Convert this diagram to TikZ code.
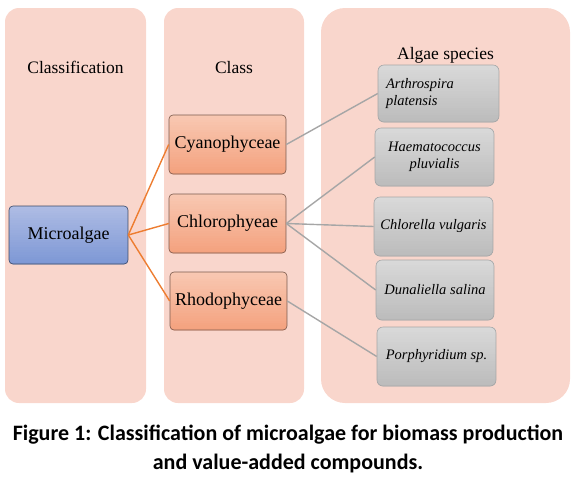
\documentclass[tikz,border=0pt]{standalone}
\usepackage{fontspec}
\setmainfont{Liberation Serif}
\newfontfamily\capfont{Carlito}
\usetikzlibrary{calc}
\definecolor{panelpink}{HTML}{F9D6CC}
\definecolor{orangeline}{HTML}{ED7D31}
\definecolor{grayline}{HTML}{A6A6A6}
\definecolor{bluetop}{HTML}{AEBCE4}
\definecolor{bluebot}{HTML}{7E98D5}
\definecolor{orgtop}{HTML}{F8C8B2}
\definecolor{orgbot}{HTML}{F4A27F}
\definecolor{graytop}{HTML}{D9D9D9}
\definecolor{graybot}{HTML}{BCBCBC}
\definecolor{blueedge}{HTML}{3C4A66}
\definecolor{orgedge}{HTML}{7A5A4E}
\pgfdeclarelayer{panels}
\pgfdeclarelayer{grad}
\pgfsetlayers{panels,grad,main}
\tikzset{
  panel/.style={fill=panelpink, draw=none, rounded corners=14pt, inner sep=0pt},
  header/.style={font=\fontsize{17.5}{20}\selectfont, anchor=base, inner sep=0pt},
  bluebox/.style={draw=blueedge, line width=0.6pt, rounded corners=4pt, minimum width=119pt, minimum height=58pt, font=\fontsize{18}{20}\selectfont, inner sep=0pt},
  classbox/.style={draw=orgedge, line width=0.6pt, rounded corners=4pt, minimum width=117pt, minimum height=58pt, font=\fontsize{18}{20}\selectfont, inner sep=0pt},
  specbox/.style={draw=grayline, line width=0.6pt, rounded corners=6pt, minimum width=119pt, minimum height=58pt, font=\fontsize{14.5}{16.5}\selectfont\itshape, inner sep=0pt, align=center},
  oline/.style={draw=orangeline, line width=1.4pt},
  gline/.style={draw=grayline, line width=1.4pt},
  captext/.style={font=\capfont\bfseries\fontsize{22}{29}\selectfont, anchor=base, inner sep=0pt}
}
\newcommand{\gradfill}[4]{%
  \begin{pgfonlayer}{grad}
  \begin{scope}
  \clip[rounded corners=#4] (#1.north west) rectangle (#1.south east);
  \foreach \i in {0,...,23}{%
    \pgfmathsetmacro\pct{100-\i*100/23}%
    \fill[#2!\pct!#3] ($(#1.north west)!\i/24!(#1.south west)$) rectangle ($(#1.north east)!{(\i+1.2)/24}!(#1.south east)$);
  }
  \end{scope}
  \end{pgfonlayer}}
\begin{document}
\begin{tikzpicture}[x=1pt,y=-1pt]
\useasboundingbox (0,0) rectangle (576,483);
% panels
\begin{pgfonlayer}{panels}
\node[panel, minimum width=141pt, minimum height=395pt] (p1) at (75.5,205.5) {};
\node[panel, minimum width=140pt, minimum height=395pt] (p2) at (234,205.5) {};
\node[panel, rounded corners=24pt, minimum width=249pt, minimum height=395pt] (p3) at (445.5,205.5) {};
\end{pgfonlayer}
% headers
\node[header] (h1) at (75.5,73) {Classification};
\node[header] (h2) at (234,73) {Class};
\node[header] (h3) at (445.5,59) {Algae species};
% boxes
\node[bluebox] (micro) at (68.5,235) {Microalgae};
\node[classbox, minimum height=59pt] (cyan) at (227.5,144.5) {Cyanophyceae};
\node[classbox, minimum height=59pt] (chlo) at (227.5,223.5) {Chlorophyeae};
\node[classbox] (rhod) at (228.5,301) {Rhodophyceae};
\node[specbox, minimum width=121pt, minimum height=57pt, align=left, text width=105pt] (s1) at (438.5,93.5) {Arthrospira\\platensis};
\node[specbox] (s2) at (434.5,157) {Haematococcus\\pluvialis};
\node[specbox, minimum height=59pt] (s3) at (433.5,226.5) {Chlorella vulgaris};
\node[specbox, minimum width=118pt, minimum height=60pt] (s4) at (435,290) {Dunaliella salina};
\node[specbox, minimum height=59pt] (s5) at (436.5,356.5) {Porphyridium sp.};
% gradients
\gradfill{micro}{bluetop}{bluebot}{4pt}
\gradfill{cyan}{orgtop}{orgbot}{4pt}
\gradfill{chlo}{orgtop}{orgbot}{4pt}
\gradfill{rhod}{orgtop}{orgbot}{4pt}
\gradfill{s1}{graytop}{graybot}{6pt}
\gradfill{s2}{graytop}{graybot}{6pt}
\gradfill{s3}{graytop}{graybot}{6pt}
\gradfill{s4}{graytop}{graybot}{6pt}
\gradfill{s5}{graytop}{graybot}{6pt}
% connectors
\draw[oline] (micro.east) -- (cyan.west);
\draw[oline] (micro.east) -- (chlo.west);
\draw[oline] (micro.east) -- (rhod.west);
\draw[gline] (cyan.east) -- (s1.west);
\draw[gline] (chlo.east) -- (s2.west);
\draw[gline] (chlo.east) -- (s3.west);
\draw[gline] (chlo.east) -- (s4.west);
\draw[gline] (rhod.east) -- (s5.west);
% caption
\node[captext] (c1) at (288,440) {Figure 1: Classification of microalgae for biomass production};
\node[captext] (c2) at (288,469) {and value-added compounds.};
\end{tikzpicture}
\end{document}
